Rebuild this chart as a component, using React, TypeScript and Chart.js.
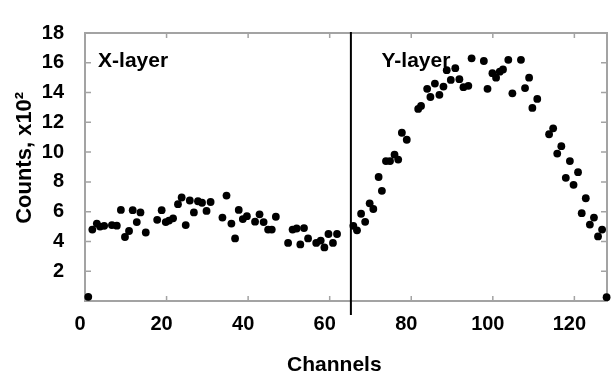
import React, { useEffect, useRef } from 'react';
import { Chart, registerables } from 'chart.js';

Chart.register(...registerables);

// ---- data ----
const xLayerChannels = [
  0.8, 1.8, 2.9, 3.7, 4.7, 6.6, 7.8, 8.8, 9.8, 10.8, 11.7, 12.7, 13.6, 14.9,
  17.7, 18.8, 19.8, 20.6, 21.6, 22.8, 23.7, 24.7, 25.7, 26.7, 27.7, 28.7, 29.8, 30.8,
  33.7, 34.7, 35.9, 36.8, 37.7, 38.7, 39.7, 41.7, 42.8, 43.8, 44.9, 45.8, 46.8,
  49.8, 50.9, 51.9, 52.8, 53.7, 54.7, 56.7, 57.8, 58.7, 59.7, 60.8, 61.8,
];
const xLayerCounts = [
  0.28, 4.8, 5.2, 5.0, 5.05, 5.1, 5.06, 6.12, 4.3, 4.7, 6.1, 5.3, 5.95, 4.6,
  5.45, 6.1, 5.3, 5.4, 5.55, 6.5, 6.95, 5.1, 6.75, 5.95, 6.7, 6.6, 6.05, 6.65,
  5.6, 7.08, 5.2, 4.2, 6.12, 5.5, 5.7, 5.33, 5.82, 5.3, 4.8, 4.8, 5.66,
  3.9, 4.8, 4.87, 3.8, 4.9, 4.2, 3.9, 4.06, 3.6, 4.5, 3.9, 4.5,
];
const yLayerChannels = [
  65.8, 66.7, 67.7, 68.7, 69.8, 70.7, 72.0, 72.8, 73.8, 74.8, 75.9, 76.8, 77.7, 78.9,
  81.7, 82.4, 83.9, 84.7, 85.8, 86.9, 87.9, 88.7, 89.7, 90.8, 91.8, 92.8, 94.0, 94.8,
  97.8, 98.7, 99.9, 100.8, 101.7, 102.5, 103.8, 104.8, 106.9, 107.9, 108.9, 109.7, 110.9,
  113.8, 114.8, 115.8, 116.8, 117.9, 118.9, 119.8, 120.9, 121.8, 122.8, 123.8, 124.8,
  125.8, 126.8, 127.9,
];
const yLayerCounts = [
  5.05, 4.75, 5.86, 5.32, 6.56, 6.18, 8.33, 7.4, 9.4, 9.4, 9.83, 9.5, 11.3, 10.83,
  12.9, 13.1, 14.25, 13.7, 14.6, 13.85, 14.4, 15.5, 14.85, 15.64, 14.9, 14.36, 14.45, 16.3,
  16.12, 14.25, 15.3, 15.0, 15.4, 15.55, 16.2, 13.95, 16.2, 14.3, 15.0, 12.97, 13.57,
  11.2, 11.6, 9.9, 10.4, 8.27, 9.4, 7.8, 8.65, 5.9, 6.9, 5.13, 5.6,
  4.34, 4.8, 0.26,
];

const X_MIN = 0;
const X_MAX = 128;
const X_STEP = 20;
const Y_MIN = 0;
const Y_MAX = 18;
const Y_STEP = 2;
const dividerChannel = 65.2;
const layerLabels = ['X-layer', 'Y-layer'];
const layerLabelChannels = [3.2, 72.7];
const layerLabelCounts = [15.7, 15.7];

const FONT = "'Liberation Sans', Arial, sans-serif";

const framePlugin = {
  id: 'frame',
  beforeDatasetsDraw(chart: any) {
    const { ctx, chartArea, scales } = chart;
    const { left, right, top, bottom } = chartArea;
    const xs = scales.x;
    const ys = scales.y;
    ctx.save();
    ctx.strokeStyle = '#a3a3a3';
    ctx.lineWidth = 2;
    ctx.strokeRect(left, top, right - left, bottom - top);
    ctx.lineWidth = 1.5;
    ctx.beginPath();
    for (let v = X_MIN; v <= X_MAX; v += X_STEP) {
      const px = xs.getPixelForValue(v);
      ctx.moveTo(px, bottom);
      ctx.lineTo(px, bottom - 5);
      ctx.moveTo(px, top);
      ctx.lineTo(px, top + 5);
    }
    for (let v = Y_MIN; v <= Y_MAX; v += Y_STEP) {
      const py = ys.getPixelForValue(v);
      ctx.moveTo(left, py);
      ctx.lineTo(left + 6, py);
      ctx.moveTo(right, py);
      ctx.lineTo(right - 6, py);
    }
    ctx.stroke();
    ctx.restore();
  },
  afterDatasetsDraw(chart: any) {
    const { ctx, chartArea, scales } = chart;
    const xs = scales.x;
    const ys = scales.y;
    ctx.save();
    ctx.strokeStyle = '#000';
    ctx.lineWidth = 2;
    const px = xs.getPixelForValue(dividerChannel);
    ctx.beginPath();
    ctx.moveTo(px, chartArea.top - 1);
    ctx.lineTo(px, chartArea.bottom + 14);
    ctx.stroke();
    ctx.fillStyle = '#000';
    ctx.font = `bold 21px ${FONT}`;
    ctx.textBaseline = 'alphabetic';
    ctx.textAlign = 'left';
    layerLabels.forEach((t, i) => {
      ctx.fillText(t, xs.getPixelForValue(layerLabelChannels[i]), ys.getPixelForValue(layerLabelCounts[i]));
    });
    ctx.restore();
  },
};

export default function App() {
  const ref = useRef<HTMLCanvasElement>(null);
  useEffect(() => {
    if (!ref.current) return;
    const toPts = (xs: number[], ys: number[]) => xs.map((x, i) => ({ x, y: ys[i] }));
    const chart = new Chart(ref.current, {
      type: 'scatter',
      data: {
        datasets: [
          {
            label: 'X-layer',
            data: toPts(xLayerChannels, xLayerCounts),
            backgroundColor: '#000',
            borderWidth: 0,
            pointRadius: 3.9,
            pointStyle: 'circle',
          },
          {
            label: 'Y-layer',
            data: toPts(yLayerChannels, yLayerCounts),
            backgroundColor: '#000',
            borderWidth: 0,
            pointRadius: 3.9,
            pointStyle: 'circle',
          },
        ],
      },
      options: {
        animation: false,
        responsive: false,
        clip: false as any,
        layout: { padding: { top: 19, right: 3, left: 0, bottom: 0 } },
        plugins: { legend: { display: false }, tooltip: { enabled: false } },
        scales: {
          x: {
            type: 'linear',
            min: X_MIN,
            max: X_MAX,
            grid: { display: false, drawTicks: false },
            border: { display: false },
            ticks: {
              stepSize: X_STEP,
              includeBounds: false,
              padding: 11,
              labelOffset: -5,
              color: '#000',
              font: { family: FONT, size: 20, weight: 'bold' },
              maxRotation: 0,
            },
            title: {
              display: true,
              text: 'Channels    ',
              color: '#000',
              font: { family: FONT, size: 21, weight: 'bold' },
              padding: { top: 0, bottom: -6 },
            },
            afterFit: (s: any) => {
              s.height = 71;
            },
          } as any,
          y: {
            type: 'linear',
            min: Y_MIN,
            max: Y_MAX,
            grid: { display: false, drawTicks: false },
            border: { display: false },
            ticks: {
              stepSize: Y_STEP,
              padding: 21,
              color: '#000',
              font: { family: FONT, size: 20, weight: 'bold' },
              callback: (v: any) => (v === 0 ? '' : String(v)),
            },
            title: {
              display: true,
              text: '   Counts, x10²',
              color: '#000',
              font: { family: FONT, size: 22, weight: 'bold' },
              padding: { top: 12, bottom: 0 },
            },
            afterFit: (s: any) => {
              s.width = 85;
            },
          } as any,
        },
      },
      plugins: [framePlugin],
    });
    return () => chart.destroy();
  }, []);
  return (
    <div style={{ position: 'fixed', left: 0, top: 0, width: 611, height: 372, background: '#fff' }}>
      <canvas ref={ref} width={611} height={372} />
    </div>
  );
}
